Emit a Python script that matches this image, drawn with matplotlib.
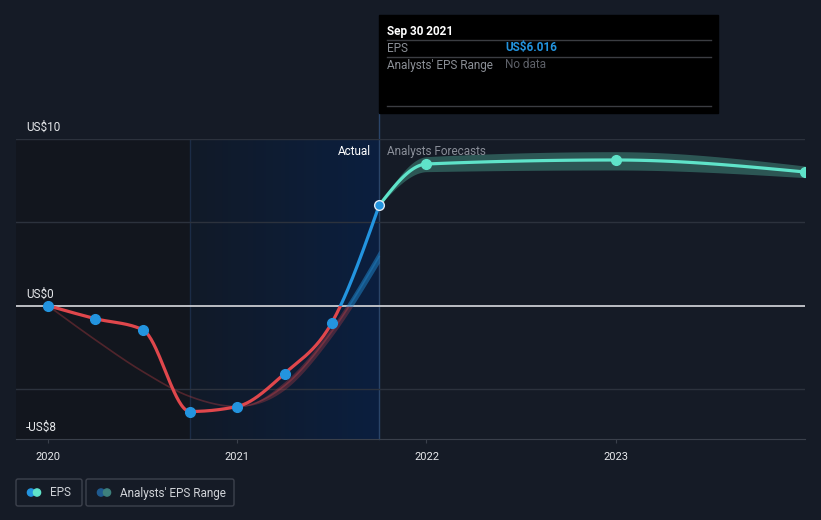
import matplotlib.pyplot as plt
import numpy as np
from matplotlib.colors import LinearSegmentedColormap
from matplotlib.patches import Rectangle, FancyBboxPatch, Circle

plt.rcParams['font.family'] = ['Roboto', 'DejaVu Sans']

# ---------------- data (decimal years, US$) ----------------
eps_t = [2020.0, 2020.25, 2020.5, 2020.75, 2021.0, 2021.25, 2021.5, 2021.75]
eps_val = [0.0, -0.78, -1.44, -6.35, -6.05, -4.07, -1.02, 6.016]

fc_t = [2021.75, 2022.0, 2023.0, 2024.0]
fc_val = [6.016, 8.5, 8.74, 8.02]
fc_low = [6.016, 8.04, 8.14, 7.68]
fc_high = [6.016, 8.94, 9.24, 8.38]

# past analyst estimates (thin line, then a band)
est_t = [2020.0, 2020.25, 2020.5, 2020.75, 2021.0, 2021.25, 2021.5, 2021.75]
est_val = [0.0, -2.05, -3.95, -5.45, -6.05, -4.8, -1.55, 2.95]
est_half = [0.0, 0.0, 0.0, 0.0, 0.0, 0.24, 0.3, 0.39]

year_ticks = [2020, 2021, 2022, 2023]
y_labels = {10: 'US$10', 0: 'US$0', -8: '-US$8'}

BG = '#151b26'
RED = '#e0474c'
BLUE = '#2394df'
TEAL = '#5fe3c9'


def monotone(xs, ys, n=40):
    # d3 curveMonotoneX style interpolation
    x = np.asarray(xs, float)
    y = np.asarray(ys, float)
    h = np.diff(x)
    d = np.diff(y) / h
    m = np.zeros_like(y)
    for i in range(1, len(x) - 1):
        p = (d[i - 1] * h[i] + d[i] * h[i - 1]) / (h[i - 1] + h[i])
        m[i] = (np.sign(d[i - 1]) + np.sign(d[i])) * min(abs(d[i - 1]), abs(d[i]), 0.5 * abs(p))
    m[0] = (3 * d[0] - m[1]) / 2
    m[-1] = (3 * d[-1] - m[-2]) / 2
    out_x, out_y = [], []
    for i in range(len(x) - 1):
        t = np.linspace(0, 1, n)
        h00 = 2 * t**3 - 3 * t**2 + 1
        h10 = t**3 - 2 * t**2 + t
        h01 = -2 * t**3 + 3 * t**2
        h11 = t**3 - t**2
        out_x.append(x[i] + t * h[i])
        out_y.append(h00 * y[i] + h10 * h[i] * m[i] + h01 * y[i + 1] + h11 * h[i] * m[i + 1])
    return np.concatenate(out_x), np.concatenate(out_y)


fig = plt.figure(figsize=(8.21, 5.20), dpi=100, facecolor=BG)
ax = fig.add_axes([16 / 821, 81 / 520, 789 / 821, 300 / 520])
ax.set_facecolor(BG)
x0, x1 = 2019.831, 2024.0
ax.set_xlim(x0, x1)
ax.set_ylim(-8, 10)

# shaded regions
ax.axvspan(x0, 2020.75, color='#12161e', zorder=0, lw=0)
grad = np.linspace(0, 1, 256).reshape(1, -1)
cmap = LinearSegmentedColormap.from_list('g', ['#111a28', '#0b1f3f'])
ax.imshow(grad, extent=[2020.75, 2021.75, -8, 10], aspect='auto', cmap=cmap, zorder=0)
ax.axvline(2020.75, color='#1b2c46', lw=1, zorder=1)
ax.axvline(2021.75, ymin=0, ymax=1 + 26 / 300, color='#2a4468', lw=1, zorder=1, clip_on=False)

# grid
for g in [10, 5, -5]:
    ax.axhline(g, color='#2c323d', lw=1, zorder=1)
ax.axhline(0, color='#c9cbd0', lw=1.3, zorder=2)

below = Rectangle((2019, -50), 10, 50, transform=ax.transData)
above = Rectangle((2019, 0), 10, 50, transform=ax.transData)

# forecast band
fx, flo = monotone(fc_t, fc_low)
_, fhi = monotone(fc_t, fc_high)
ax.fill_between(fx, flo, fhi, color='#2f5d5a', alpha=0.9, lw=0, zorder=3)

# past estimate line + band
ex, ey = monotone(est_t, est_val)
_, eh = monotone(est_t, est_half)
for clip, col, a in [(below, RED, 0.28), (above, BLUE, 0.45)]:
    b = ax.fill_between(ex, ey - eh, ey + eh, color=col, alpha=a, lw=0, zorder=3)
    b.set_clip_path(clip)
    l, = ax.plot(ex, ey, color=col, alpha=0.3, lw=1.2, zorder=3)
    l.set_clip_path(clip)

# EPS actual line, red below zero, blue above
ax_, ay_ = monotone(eps_t, eps_val)
for clip, col in [(below, RED), (above, BLUE)]:
    l, = ax.plot(ax_, ay_, color=col, lw=2.3, zorder=4, solid_capstyle='round')
    l.set_clip_path(clip)
ax.plot(eps_t[:-1], eps_val[:-1], 'o', color=BLUE, ms=7, mec=BLUE, zorder=5)
ax.plot(eps_t[-1:], eps_val[-1:], 'o', color=BLUE, ms=7, mec='#dfe9f5', mew=1, zorder=6)

# forecast line
fx, fy = monotone(fc_t, fc_val)
ax.plot(fx, fy, color=TEAL, lw=2.3, zorder=4)
ax.plot(fc_t[1:], fc_val[1:], 'o', color=TEAL, ms=7, zorder=5)

# axes styling
for s in ['top', 'right', 'left']:
    ax.spines[s].set_visible(False)
ax.spines['bottom'].set_color('#3a404b')
ax.set_yticks([])
ax.set_xticks(year_ticks)
ax.set_xticklabels([str(y) for y in year_ticks])
ax.tick_params(axis='x', colors='#3a404b', length=3, pad=6, labelcolor='#e6e8eb', labelsize=8)

for v, lab in y_labels.items():
    ax.annotate(lab, xy=(10 / 789, v), xycoords=('axes fraction', 'data'),
                xytext=(0, 5), textcoords='offset pixels', va='bottom', ha='left',
                color='#e6e8eb', fontsize=8.5)

ax.annotate('Actual', xy=(2021.75, 10), xytext=(-8, -12), textcoords='offset pixels',
            ha='right', va='center', color='#ffffff', fontsize=8.5)
ax.annotate('Analysts Forecasts', xy=(2021.75, 10), xytext=(8, -12), textcoords='offset pixels',
            ha='left', va='center', color='#8a8f99', fontsize=8.5)

# overlay in pixel coords for tooltip and legend
ov = fig.add_axes([0, 0, 1, 1], zorder=10)
ov.set_xlim(0, 821)
ov.set_ylim(520, 0)
ov.axis('off')
ov.patch.set_visible(False)

ov.add_patch(Rectangle((379, 15), 339, 98, color='#000000'))
ov.text(387, 31, 'Sep 30 2021', color='white', fontsize=8.5, fontweight='bold', va='center')
for yy in [40, 57, 106]:
    ov.plot([387, 711], [yy, yy], color='#3b3d42', lw=1)
ov.text(387, 48, 'EPS', color='#8b8f96', fontsize=8.5, va='center')
ov.text(505, 48, 'US$%.3f' % eps_val[-1], color=BLUE, fontsize=8.5, fontweight='bold', va='center')
ov.text(387, 65, "Analysts' EPS Range", color='#8b8f96', fontsize=8.5, va='center')
ov.text(505, 65, 'No data', color='#5d6068', fontsize=8.5, va='center')

# legend
ov.add_patch(FancyBboxPatch((16, 479), 66, 27, boxstyle='round,pad=0,rounding_size=2',
                            fc='none', ec='#3d424d', lw=1))
ov.add_patch(Circle((31, 492.5), 3.6, color=BLUE))
ov.add_patch(Circle((37, 492.5), 3.6, color=TEAL))
ov.text(50, 493, 'EPS', color='#d0d3d8', fontsize=8.5, va='center')
ov.add_patch(FancyBboxPatch((86, 479), 148, 27, boxstyle='round,pad=0,rounding_size=2',
                            fc='none', ec='#3d424d', lw=1))
ov.add_patch(Circle((101, 492.5), 3.6, color='#1f5a8f'))
ov.add_patch(Circle((107, 492.5), 3.6, color='#3d807c'))
ov.text(120, 493, "Analysts' EPS Range", color='#d0d3d8', fontsize=8.5, va='center')

fig.savefig('out.png', dpi=100, facecolor=BG)
